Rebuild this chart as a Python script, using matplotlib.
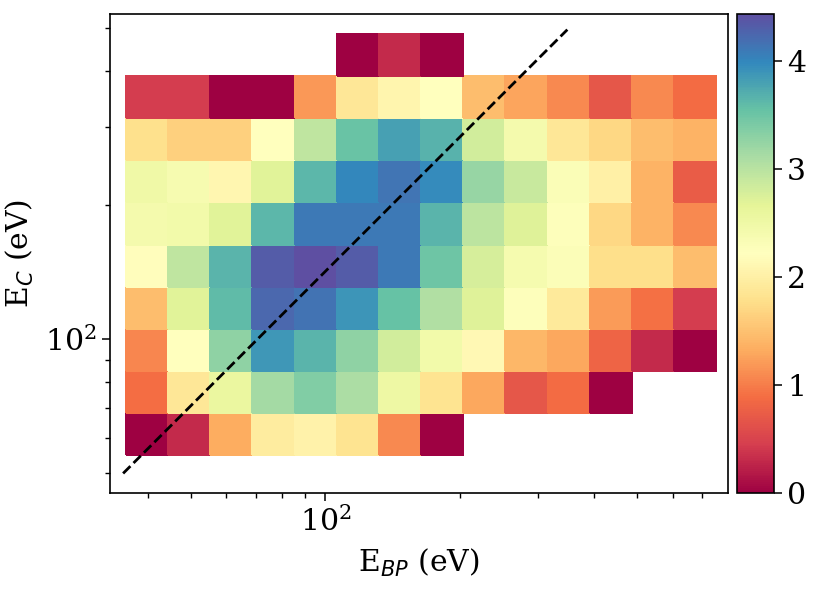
import numpy as np
import matplotlib
matplotlib.use('Agg')
import matplotlib.pyplot as plt
from matplotlib.ticker import NullFormatter

plt.rcParams['font.family'] = 'serif'
plt.rcParams['font.serif'] = ['DejaVu Serif']
plt.rcParams['font.size'] = 21.5

# bin edges (eV), log spaced
x_lo, x_hi, n_x = 35.7, 752.0, 14
y_lo, y_hi, n_y = 55.0, 483.6, 10
x_edges = np.logspace(np.log10(x_lo), np.log10(x_hi), n_x + 1)
y_edges = np.logspace(np.log10(y_lo), np.log10(y_hi), n_y + 1)

nan = np.nan
# log10 counts, rows listed from top (high E_C) to bottom
counts_top_down = [
    [nan, nan, nan, nan, nan, 0.00, 0.30, 0.00, nan, nan, nan, nan, nan, nan],
    [0.45, 0.45, 0.00, 0.00, 1.18, 1.89, 2.08, 2.22, 1.47, 1.28, 1.09, 0.69, 1.09, 0.88],
    [1.80, 1.64, 1.64, 2.22, 2.95, 3.53, 3.80, 3.66, 2.82, 2.42, 1.89, 1.71, 1.47, 1.38],
    [2.49, 2.38, 2.09, 2.70, 3.64, 4.00, 4.13, 3.97, 3.24, 2.89, 2.31, 2.00, 1.38, 0.73],
    [2.42, 2.45, 2.70, 3.64, 4.10, 4.10, 4.10, 3.65, 2.97, 2.71, 2.26, 1.71, 1.38, 1.09],
    [2.20, 2.95, 3.65, 4.33, 4.44, 4.33, 4.10, 3.50, 2.78, 2.40, 2.30, 1.78, 1.78, 1.46],
    [1.47, 2.70, 3.60, 4.24, 4.15, 3.90, 3.55, 3.06, 2.71, 2.26, 1.92, 1.20, 0.91, 0.45],
    [1.06, 2.22, 3.28, 3.88, 3.65, 3.28, 2.82, 2.45, 2.13, 1.42, 1.29, 0.80, 0.30, 0.00],
    [0.90, 1.89, 2.58, 3.15, 3.37, 3.09, 2.53, 1.83, 1.30, 0.69, 0.88, 0.00, nan, nan],
    [0.00, 0.30, 1.33, 1.95, 2.04, 1.83, 1.09, 0.00, nan, nan, nan, nan, nan, nan],
]
counts = np.ma.masked_invalid(np.flipud(np.array(counts_top_down)))

# dashed reference line E_C = ratio * E_BP
line_x = np.array([35.2, 348.6])
line_ratio = 1.42

fig = plt.figure(figsize=(8.31, 5.93), dpi=100)
ax = fig.add_axes([0.1324, 0.1681, 0.7431, 0.8091])
cax = fig.add_axes([0.8863, 0.1681, 0.0451, 0.8091])

mesh = ax.pcolormesh(x_edges, y_edges, counts, cmap='Spectral', edgecolors='face', linewidth=0.3)
ax.plot(line_x, line_ratio * line_x, 'k--', lw=2)

ax.set_xscale('log')
ax.set_yscale('log')
ax.set_xlim(32.9, 797)
ax.set_ylim(45.1, 538)
ax.xaxis.set_minor_formatter(NullFormatter())
ax.yaxis.set_minor_formatter(NullFormatter())
ax.tick_params(which='major', length=6, width=1.1)
ax.tick_params(which='minor', length=3.5, width=1.0)
for s in ax.spines.values():
    s.set_linewidth(1.2)

ax.set_xlabel(r'E$_{BP}$ (eV)', labelpad=7)
ax.set_ylabel(r'E$_{C}$ (eV)', labelpad=7)

cb = fig.colorbar(mesh, cax=cax)
cb.set_ticks([0, 1, 2, 3, 4])
cb.outline.set_linewidth(1.2)
cax.tick_params(length=6, width=1.1)

fig.savefig('out.png', dpi=100)
